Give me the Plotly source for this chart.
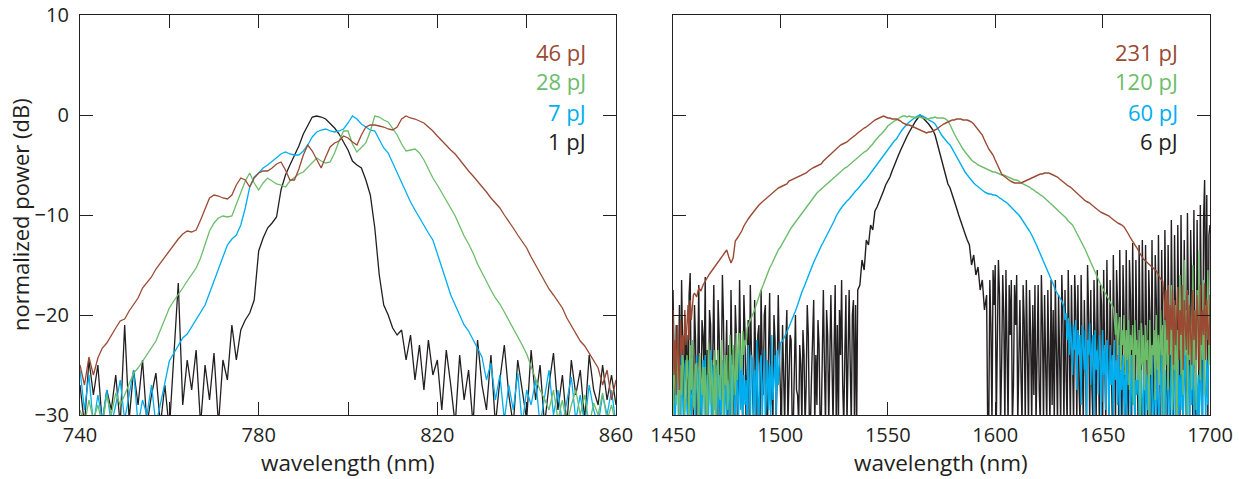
import numpy as np
import plotly.graph_objects as go

# ---------------- data: left panel (740-860 nm, 1 nm steps) ----------------
wl_left = list(range(740, 861))

left_46pJ = [
    -25.0, -27.0, -24.2, -26.0, -24.3, -23.3, -22.8, -22.0, -21.3, -20.6,
    -20.4, -19.6, -18.9, -18.3, -17.3, -16.8, -16.2, -15.4, -14.8, -14.1,
    -13.5, -12.9, -12.4, -11.9, -11.6, -11.7, -11.5, -10.5, -9.3, -8.3,
    -8.0, -8.1, -8.3, -8.4, -8.0, -7.0, -6.3, -6.5, -7.2, -6.3,
    -5.8, -5.6, -5.6, -5.3, -4.9, -4.7, -5.5, -6.5, -6.5, -5.4,
    -4.0, -3.0, -3.6, -4.5, -5.3, -4.2, -3.2, -2.8, -2.6, -2.1,
    -2.3, -2.7, -3.0, -2.0, -1.2, -1.0, -1.0, -1.1, -1.2, -1.4,
    -1.5, -1.2, -0.4, -0.1, -0.3, -0.4, -0.6, -0.8, -1.2, -1.6,
    -2.1, -2.6, -3.0, -3.5, -3.9, -4.5, -5.0, -5.6, -6.1, -6.6,
    -7.2, -7.7, -8.3, -8.8, -9.3, -10.0, -10.6, -11.3, -12.0, -12.6,
    -13.3, -14.2, -15.0, -15.9, -16.7, -17.4, -18.0, -18.6, -19.3, -20.3,
    -21.1, -21.9, -22.6, -23.1, -23.8, -24.6, -25.3, -27.0, -25.5, -28.5,
    -26.5,
]
left_28pJ = [
    -29.5, -31.0, -28.5, -30.5, -29.0, -31.0, -28.0, -30.0, -27.8, -29.0,
    -28.0, -26.8, -25.8, -25.3, -24.6, -24.0, -23.2, -22.6, -21.5, -20.3,
    -19.3, -18.6, -18.0, -17.3, -16.6, -16.0, -15.3, -14.3, -13.0, -11.6,
    -10.8, -10.3, -10.1, -10.2, -10.1, -9.0, -7.8, -6.6, -5.8, -6.8,
    -7.5, -6.8, -6.3, -6.6, -6.9, -7.0, -7.2, -6.6, -6.2, -5.9,
    -5.7, -5.2, -4.7, -4.3, -4.6, -4.8, -4.7, -3.8, -2.6, -1.6,
    -1.6, -2.9, -3.7, -3.3, -2.8, -1.6, -0.1, -0.2, -0.5, -0.7,
    -1.3, -2.0, -2.9, -3.6, -3.5, -3.4, -3.8, -4.5, -5.4, -6.3,
    -7.0, -7.8, -8.6, -9.3, -10.1, -11.1, -12.1, -12.9, -13.8, -14.9,
    -15.8, -16.7, -17.5, -18.3, -18.9, -19.7, -20.5, -21.3, -22.2, -23.0,
    -23.9, -25.2, -26.4, -27.5, -28.4, -29.5, -27.5, -30.5, -28.5, -31.0,
    -29.0, -27.5, -30.0, -28.0, -31.0, -28.8, -30.0, -27.8, -30.5, -29.0,
    -31.0,
]
left_7pJ = [
    -25.5, -29.5, -26.0, -31.0, -28.0, -30.5, -27.5, -31.0, -29.0, -26.5,
    -30.5, -28.0, -25.5, -31.0, -28.5, -30.0, -27.0, -31.0, -29.0, -26.8,
    -24.6, -23.8, -23.0, -22.3, -21.9, -21.2, -20.5, -19.7, -19.0, -17.8,
    -16.6, -15.2, -14.0, -13.0, -12.4, -12.0, -11.0, -9.3, -7.2, -6.2,
    -5.8, -5.3, -5.0, -4.6, -4.3, -3.9, -3.7, -3.9, -4.0, -4.0,
    -3.6, -3.0, -2.2, -1.7, -1.5, -1.4, -1.6, -1.7, -1.6, -1.4,
    -0.8, -0.1, -0.4, -0.9, -1.2, -1.5, -1.6, -2.5, -3.3, -3.8,
    -4.8, -5.8, -6.7, -7.8, -8.7, -9.5, -10.3, -11.0, -11.8, -12.5,
    -13.8, -15.2, -16.6, -18.0, -19.0, -20.0, -21.0, -21.6, -22.5, -23.3,
    -24.2, -26.5, -24.8, -28.5, -26.0, -30.5, -27.0, -29.5, -25.8, -31.0,
    -27.5, -29.0, -26.5, -31.0, -28.0, -25.5, -30.0, -27.5, -31.0, -28.5,
    -26.2, -30.5, -28.0, -31.0, -27.0, -29.5, -31.0, -28.0, -30.0, -27.5,
    -31.0,
]
left_1pJ = [
    -27.0, -31.0, -24.5, -28.0, -25.0, -31.0, -27.5, -29.5, -26.0, -31.0,
    -21.0, -30.5, -25.5, -29.0, -24.5, -31.0, -28.0, -25.8, -31.0, -27.0,
    -31.5, -24.0, -16.8, -29.0, -24.5, -27.5, -23.5, -31.0, -25.0, -28.5,
    -23.8, -31.0, -24.5, -26.5, -21.0, -24.5, -21.5, -20.5, -19.8, -18.5,
    -13.6, -12.3, -11.3, -10.8, -10.2, -7.5, -6.0, -5.0, -4.0, -3.1,
    -1.9, -1.0, -0.2, -0.1, -0.2, -0.4, -0.8, -1.3, -1.9, -2.7,
    -3.5, -4.6, -5.0, -5.3, -6.5, -8.0, -11.3, -16.0, -19.0, -20.0,
    -21.3, -22.0, -21.5, -24.5, -22.0, -26.5, -23.0, -27.5, -22.5, -26.0,
    -24.5, -29.5, -23.5, -27.0, -31.0, -24.0, -28.5, -25.5, -31.0, -22.5,
    -27.0, -29.5, -24.0, -31.0, -26.5, -23.0, -28.0, -31.0, -24.5, -27.5,
    -30.5, -23.5, -28.5, -25.0, -31.0, -27.0, -23.8, -29.5, -26.0, -31.0,
    -24.5, -28.0, -25.5, -30.5, -24.0, -27.5, -29.0, -25.0, -28.5, -26.0,
    -29.0,
]

# ---------------- data: right panel (1450-1700 nm) ----------------
# noisy stretches are sampled every 0.5 nm, the smooth spectra every 1 nm

# 231 pJ : 1450-1459.5 (0.5 nm) | 1460-1678 (1 nm) | 1678.5-1700 (0.5 nm)
r231_lo = [
    -19.5, -26.0, -22.5, -28.0, -21.0, -25.0, -27.5, -20.5, -24.0, -22.0,
    -24.0, -19.5, -23.0, -21.0, -19.0, -22.5, -18.5, -20.5, -19.0, -18.0,
]
r231_mid = [
    -17.8, -18.2, -17.3, -17.6, -17.0, -16.6, -16.3, -15.9, -15.6, -15.3,
    -15.0, -14.6, -14.3, -14.0, -13.7, -13.5, -14.2, -14.8, -14.3, -12.6,
    -12.3, -12.0, -11.6, -11.1, -10.7, -10.4, -10.1, -9.8, -9.5, -9.2,
    -9.0, -8.8, -8.6, -8.4, -8.2, -8.0, -7.9, -7.6, -7.5, -7.3,
    -7.2, -7.1, -7.0, -6.9, -6.6, -6.5, -6.4, -6.3, -6.2, -6.1,
    -6.0, -5.9, -5.8, -5.6, -5.4, -5.3, -5.2, -5.1, -5.0, -4.9,
    -4.6, -4.4, -4.1, -3.9, -3.7, -3.6, -3.4, -3.2, -3.0, -2.9,
    -2.8, -2.7, -2.5, -2.3, -2.2, -2.0, -1.8, -1.6, -1.5, -1.3,
    -1.2, -1.0, -0.9, -0.7, -0.5, -0.4, -0.3, -0.2, -0.1, -0.2,
    -0.3, -0.3, -0.4, -0.4, -0.4, -0.5, -0.6, -0.8, -0.9, -1.0,
    -1.0, -1.1, -1.2, -1.3, -1.4, -1.5, -1.6, -1.7, -1.8, -1.7,
    -1.7, -1.6, -1.5, -1.4, -1.2, -1.0, -0.9, -0.8, -0.7, -0.6,
    -0.5, -0.5, -0.4, -0.4, -0.4, -0.5, -0.5, -0.5, -0.6, -0.7,
    -0.9, -1.2, -1.5, -1.8, -2.0, -2.5, -3.0, -3.4, -3.7, -4.0,
    -4.5, -5.0, -5.5, -5.9, -6.1, -6.3, -6.5, -6.6, -6.7, -6.8,
    -6.8, -6.8, -6.8, -6.7, -6.6, -6.5, -6.4, -6.3, -6.2, -6.1,
    -6.0, -5.9, -5.9, -5.8, -5.8, -5.8, -5.9, -6.0, -6.1, -6.2,
    -6.4, -6.6, -6.8, -7.0, -7.1, -7.2, -7.4, -7.6, -7.8, -8.1,
    -8.3, -8.5, -8.6, -8.7, -8.8, -9.0, -9.2, -9.4, -9.5, -9.7,
    -9.8, -9.9, -10.0, -10.1, -10.3, -10.5, -10.6, -10.8, -10.9, -11.0,
    -11.2, -11.5, -11.9, -12.3, -12.6, -13.0, -13.3, -13.7, -14.1, -14.4,
    -14.6, -14.8, -15.0, -15.1, -15.3, -15.6, -16.0, -16.4, -16.6,
]
r231_hi = [
    -18.0, -20.5, -17.5,
    -22.5, -17.0, -24.0, -19.0, -21.5, -17.5, -25.0, -18.5, -23.0, -20.0,
    -17.2, -24.5, -19.5, -22.0, -17.0, -25.5, -18.5, -21.0, -23.5, -17.5,
    -24.0, -19.0, -21.5, -25.0, -17.5, -22.5, -19.5, -24.5, -18.0, -20.5,
    -25.5, -17.0, -23.0, -19.5, -22.0, -16.8, -24.5, -18.5, -21.5, -23.0,
    -18.0,
]

# 120 pJ : 1450-1484.5 (0.5 nm) | 1485-1655 (1 nm) | 1655.5-1700 (0.5 nm)
r120_lo = [
    -31.0, -24.5, -27.0, -29.0, -23.5, -26.0, -31.0, -25.0, -28.0, -24.0,
    -25.0, -30.0, -28.5, -24.0, -26.5, -31.0, -23.0, -27.5, -22.5, -29.0,
    -29.5, -25.0, -24.8, -28.0, -31.0, -23.8, -26.0, -28.0, -25.2, -30.0,
    -25.2, -27.5, -31.0, -22.8, -26.0, -29.0, -24.5, -27.0, -30.5, -23.5,
    -31.0, -25.5, -23.5, -28.0, -28.5, -22.5, -26.0, -31.0, -24.0, -27.0,
    -24.0, -29.5, -27.5, -22.0, -25.5, -30.0, -23.0, -26.0, -28.0, -21.8,
    -26.5, -23.0, -21.8, -25.5, -25.0, -21.6, -24.0, -22.5, -23.0, -21.3,
]
r120_mid = [
    -21.0, -20.5, -20.0, -19.5, -18.8,
    -18.2, -17.5, -17.0, -16.4, -15.8, -15.3, -14.9, -14.4, -14.0, -13.5,
    -13.2, -12.8, -12.4, -12.0, -11.6, -11.3, -11.0, -10.7, -10.4, -10.1,
    -9.8, -9.5, -9.2, -8.9, -8.6, -8.3, -8.1, -7.8, -7.6, -7.4,
    -7.2, -7.0, -6.8, -6.7, -6.5, -6.3, -6.1, -5.9, -5.7, -5.5,
    -5.3, -5.2, -5.0, -4.8, -4.6, -4.5, -4.3, -4.1, -3.9, -3.7,
    -3.6, -3.4, -3.2, -2.9, -2.6, -2.3, -2.1, -1.9, -1.7, -1.4,
    -1.1, -0.9, -0.8, -0.6, -0.5, -0.3, -0.2, -0.1, -0.1, -0.2,
    -0.1, -0.2, -0.2, -0.3, -0.2, -0.2, -0.3, -0.3, -0.4, -0.4,
    -0.3, -0.3, -0.2, -0.3, -0.3, -0.3, -0.3, -0.4, -0.6, -1.0,
    -1.5, -1.9, -2.3, -2.7, -3.0, -3.4, -3.7, -4.0, -4.3, -4.5,
    -4.7, -4.8, -5.0, -5.1, -5.2, -5.3, -5.4, -5.5, -5.6, -5.7,
    -5.7, -5.8, -5.9, -6.0, -6.0, -6.1, -6.2, -6.3, -6.4, -6.5,
    -6.5, -6.6, -6.8, -6.9, -7.0, -7.1, -7.2, -7.4, -7.5, -7.7,
    -7.8, -8.0, -8.1, -8.3, -8.5, -8.6, -8.8, -9.0, -9.2, -9.4,
    -9.6, -9.8, -10.0, -10.3, -10.6, -10.8, -11.0, -11.4, -11.8, -12.3,
    -12.7, -13.0, -13.5, -14.0, -14.5, -15.0, -15.4, -15.9, -16.4, -16.9,
    -17.3, -17.7, -18.2, -18.6, -19.0, -19.3,
]
r120_hi = [
    -20.5, -22.0, -19.8, -24.0, -21.0, -20.2, -25.5, -21.5, -23.0,
    -20.0, -26.0, -21.5, -24.5, -20.5, -27.5, -22.0, -23.5, -21.0, -29.0,
    -20.5, -24.0, -22.5, -26.5, -21.5, -31.0, -20.8, -25.0, -22.0, -27.5,
    -21.0, -24.5, -22.5, -31.0, -20.5, -26.0, -23.0, -24.0, -21.5, -28.5,
    -20.0, -25.5, -22.0, -27.0, -19.5, -24.0, -21.0, -30.0, -20.5, -25.0,
    -18.5, -27.5, -21.0, -24.0, -17.0, -29.5, -20.0, -25.5, -19.0, -31.0,
    -21.5, -23.5, -16.0, -26.0, -20.5, -28.0, -14.5, -24.0, -19.5, -30.0,
    -18.0, -24.5, -21.0, -27.5, -15.0, -25.0, -19.5, -29.5, -17.5, -23.0,
    -13.5, -26.5, -20.0, -24.5, -16.5, -28.0, -19.0, -22.5, -15.5, -25.0,
    -21.0,
]

# 60 pJ : 1450-1500 (0.5 nm) | 1501-1632 (1 nm) | 1632.5-1700 (0.5 nm)
r60_lo = [
    -25.0, -29.0, -31.0, -27.0, -24.0, -30.0, -26.5, -31.0, -23.5, -28.0,
    -31.0, -26.5, -24.5, -29.5, -31.0, -24.5, -27.0, -31.0, -25.5, -29.0,
    -27.5, -31.0, -24.0, -28.0, -25.5, -31.0, -26.5, -30.0, -24.5, -28.0,
    -24.0, -31.0, -26.0, -30.5, -26.5, -23.5, -31.0, -27.0, -25.0, -29.5,
    -29.0, -25.0, -31.0, -26.0, -28.5, -31.0, -24.5, -27.0, -30.0, -25.0,
    -31.0, -26.5, -27.0, -31.0, -24.0, -30.0, -25.5, -28.5, -31.0, -24.5,
    -27.5, -31.0, -23.5, -29.5, -24.0, -31.0, -26.0, -29.0, -26.5, -31.0,
    -23.0, -27.5, -31.0, -24.0, -24.5, -30.0, -25.5, -31.0, -22.5, -28.0,
    -31.0, -25.0, -24.0, -30.5, -26.0, -23.5, -31.0, -27.0, -24.5, -29.5,
    -25.0, -31.0, -22.0, -28.5, -26.0, -24.0, -30.0, -23.5, -27.0, -24.0,
    -22.8,
]
r60_mid = [
    -22.6, -22.2, -21.7, -21.2, -20.7, -20.1, -19.6, -19.0, -18.3,
    -17.7, -17.2, -16.6, -16.1, -15.6, -15.0, -14.5, -14.0, -13.5, -13.1,
    -12.7, -12.3, -11.9, -11.5, -11.1, -10.6, -10.1, -9.7, -9.4, -9.1,
    -8.8, -8.6, -8.4, -8.1, -7.9, -7.6, -7.4, -7.1, -6.9, -6.6,
    -6.4, -6.1, -5.8, -5.6, -5.3, -5.0, -4.7, -4.4, -4.1, -3.8,
    -3.5, -3.2, -2.9, -2.6, -2.4, -2.0, -1.7, -1.4, -1.1, -0.9,
    -0.7, -0.5, -0.4, -0.2, -0.1, 0.0, -0.1, -0.2, -0.3, -0.5,
    -0.6, -0.7, -0.9, -1.2, -1.6, -2.0, -2.3, -2.5, -2.8, -3.0,
    -3.4, -3.8, -4.2, -4.6, -5.0, -5.3, -5.7, -6.0, -6.3, -6.6,
    -6.8, -7.0, -7.2, -7.4, -7.6, -7.7, -7.8, -7.9, -7.9, -8.0,
    -8.0, -8.1, -8.3, -8.4, -8.6, -8.7, -8.9, -9.1, -9.3, -9.5,
    -9.7, -10.0, -10.3, -10.6, -10.9, -11.2, -11.6, -12.0, -12.4, -12.9,
    -13.4, -13.9, -14.3, -14.9, -15.4, -15.9, -16.4, -16.9, -17.5, -17.9,
    -18.3, -18.6, -19.2,
]
r60_hi = [
    -20.5, -19.8, -22.5, -20.3, -24.0,
    -20.8, -22.5, -26.0, -21.0, -23.5, -20.5, -27.5, -21.5, -24.0, -22.0,
    -29.0, -21.0, -23.0, -25.5, -21.5, -31.0, -22.5, -24.0, -20.8, -27.0,
    -23.0, -22.0, -31.0, -21.5, -25.5, -23.5, -28.0, -22.0, -24.5, -31.0,
    -21.5, -26.0, -23.0, -29.5, -22.5, -25.0, -31.0, -23.0, -27.0, -24.0,
    -31.0, -22.5, -26.5, -24.5, -29.0, -23.0, -31.0, -25.0, -27.5, -24.0,
    -30.0, -25.5, -31.0, -23.5, -27.0, -26.0, -31.0, -24.0, -29.0, -25.0,
    -31.0, -26.5, -28.0, -24.0, -31.0, -27.0, -25.5, -31.0, -28.5, -24.5,
    -31.0, -26.0, -29.5, -25.0, -31.0, -27.5, -24.0, -31.0, -28.0, -26.5,
    -31.0, -25.0, -29.0, -31.0, -26.5, -24.0, -31.0, -28.0, -25.5, -31.0,
    -27.0, -24.5, -31.0, -29.0, -23.5, -31.0, -27.5, -25.0, -31.0, -28.0,
    -22.5, -31.0, -26.0, -29.5, -24.0, -31.0, -27.0, -22.0, -31.0, -28.5,
    -25.0, -31.0, -23.0, -29.0, -20.5, -31.0, -27.0, -24.5, -31.0, -26.0,
    -31.0, -23.5, -28.5, -31.0, -21.0, -27.0, -31.0, -24.5, -29.0, -22.0,
    -24.0,
]

# 6 pJ : 1450-1536 (0.5 nm) | 1537-1596 (1 nm) | 1596.5-1700 (0.5 nm)
r6_lo = [
    -17.5, -26.0, -31.0, -21.0, -24.5, -27.5, -19.0, -31.0, -16.5, -23.0,
    -31.0, -20.0, -25.5, -22.0, -31.0, -18.0, -15.8, -28.0, -24.0, -31.0,
    -19.0, -22.5, -31.0, -25.0, -17.0, -29.0, -31.0, -20.5, -22.0, -26.0,
    -16.2, -31.0, -23.5, -28.5, -19.5, -21.0, -31.0, -24.0, -17.0, -27.0,
    -24.5, -31.0, -18.5, -22.0, -31.0, -26.5, -16.0, -20.5, -29.0, -26.0,
    -20.5, -31.0, -23.0, -31.0, -17.5, -25.0, -23.5, -31.0, -19.0, -22.0,
    -31.0, -27.0, -16.5, -24.0, -27.0, -31.0, -18.0, -21.5, -31.0, -25.5,
    -20.5, -31.0, -17.0, -23.5, -29.0, -31.0, -18.5, -26.0, -31.0, -22.0,
    -21.0, -31.0, -17.5, -24.0, -28.0, -20.0, -19.0, -31.0, -31.0, -23.5,
    -17.8, -29.0, -25.5, -31.0, -20.0, -22.5, -31.0, -26.0, -18.0, -24.0,
    -27.5, -31.0, -21.0, -25.0, -31.0, -23.0, -19.5, -31.0, -26.0, -22.0,
    -22.5, -31.0, -31.0, -24.0, -20.0, -27.5, -28.0, -31.0, -23.0, -25.0,
    -31.0, -21.5, -24.0, -31.0, -27.0, -19.0, -22.0, -31.0, -31.0, -26.0,
    -22.0, -18.5, -31.0, -24.0, -29.0, -20.5, -23.0, -31.0, -31.0, -21.0,
    -17.5, -25.0, -31.0, -19.5, -22.0, -31.0, -26.0, -18.0, -24.5, -31.0,
    -23.5, -17.0, -31.0, -21.0, -31.0, -19.5, -24.0, -16.5, -27.0, -31.0,
    -24.0, -18.0, -31.0, -22.0, -17.5, -25.0, -31.0, -20.0, -18.5, -31.0,
    -19.0, -31.0, -17.5,
]
r6_mid = [
    -17.0, -14.5, -15.5,
    -12.5, -13.0, -11.0, -11.5, -9.6, -9.2, -8.7, -8.2, -7.6, -7.0,
    -6.6, -6.2, -5.6, -5.0, -4.5, -4.0, -3.5, -3.0, -2.5, -2.1,
    -1.7, -1.3, -0.9, -0.6, -0.3, 0.0, -0.2, -0.4, -0.6, -0.9,
    -1.2, -1.5, -2.0, -2.8, -3.6, -4.5, -5.3, -6.2, -6.9, -7.3,
    -7.9, -8.6, -9.3, -10.0, -10.7, -11.3, -11.9, -12.5, -13.0, -15.0,
    -14.0, -16.0, -15.2, -17.5, -16.5, -19.5, -18.0,
]
r6_hi = [
    -31.0, -31.0, -16.5, -21.0, -31.0, -15.5, -19.0,
    -15.0, -31.0, -22.5, -14.5, -18.0, -31.0, -25.0, -16.0, -20.0, -31.0,
    -15.5, -24.0, -31.0, -17.0, -22.0, -16.5, -31.0, -27.0, -17.0, -21.0,
    -16.0, -31.0, -23.0, -18.5, -26.0, -31.0, -17.0, -20.5, -31.0, -16.5,
    -24.0, -31.0, -17.5, -22.0, -31.0, -19.0, -28.0, -17.0, -31.0, -23.5,
    -17.0, -27.5, -31.0, -16.0, -21.0, -31.0, -18.0, -25.0, -31.0, -17.5,
    -23.0, -31.0, -16.5, -29.0, -19.5, -31.0, -16.5, -22.5, -31.0, -18.0,
    -25.5, -31.0, -16.0, -20.0, -31.0, -17.5, -26.0, -31.0, -15.5, -22.0,
    -31.0, -17.0, -24.5, -31.0, -16.0, -19.5, -31.0, -17.0, -27.0, -31.0,
    -16.0, -22.0, -31.0, -18.5, -24.0, -31.0, -15.0, -20.0, -31.0, -17.5,
    -27.0, -31.0, -16.5, -21.5, -31.0, -15.5, -23.0, -31.0, -17.0, -19.0,
    -31.0, -15.5, -25.0, -31.0, -14.5, -20.5, -31.0, -16.5, -28.0, -31.0,
    -14.0, -22.0, -31.0, -15.5, -19.0, -31.0, -13.5, -24.5, -31.0, -15.0,
    -20.0, -31.0, -13.5, -26.0, -31.0, -14.5, -18.5, -31.0, -12.8, -23.0,
    -31.0, -14.5, -21.0, -31.0, -13.0, -25.0, -31.0, -12.5, -19.5, -31.0,
    -13.0, -23.0, -31.0, -15.5, -20.0, -31.0, -12.5, -26.0, -31.0, -14.0,
    -18.5, -31.0, -12.0, -24.0, -31.0, -13.5, -21.0, -31.0, -11.5, -19.0,
    -31.0, -13.0, -22.5, -31.0, -10.5, -20.0, -31.0, -12.0, -25.0, -31.0,
    -11.0, -18.5, -31.0, -10.0, -23.0, -31.0, -12.5, -19.5, -31.0, -9.8,
    -21.0, -31.0, -11.5, -17.5, -31.0, -9.5, -24.0, -31.0, -10.5, -20.0,
    -31.0, -9.0, -18.0, -31.0, -10.5, -6.5, -22.0, -8.0, -31.0, -12.0,
    -11.0,
]

left_labels = ["46 pJ", "28 pJ", "7 pJ", "1 pJ"]
right_labels = ["231 pJ", "120 pJ", "60 pJ", "6 pJ"]
label_db = [6.3, 3.4, 0.3, -2.6]
y_ticks = [-30, -20, -10, 0, 10]
y_ticktext = ["\u221230", "\u221220", "\u221210", "0", "10"]
left_xticks = [740, 760, 780, 800, 820, 840, 860]
left_xticktext = ["740", "", "780", "", "820", "", "860"]
right_xticks = [1450, 1500, 1550, 1600, 1650, 1700]
x_title = "wavelength (nm)"
y_title = "normalized power (dB)"


def grid(start, stop, step):
    return [round(v, 2) for v in np.arange(start, stop + step / 2, step)]


def join(parts):
    xs, ys = [], []
    for (a, b, s), vals in parts:
        g = grid(a, b, s)
        assert len(g) == len(vals), (a, b, len(g), len(vals))
        xs += g
        ys += vals
    return xs, ys


right_231_x, right_231 = join([((1450, 1459.5, 0.5), r231_lo), ((1460, 1678, 1), r231_mid),
                               ((1678.5, 1700, 0.5), r231_hi)])
right_120_x, right_120 = join([((1450, 1484.5, 0.5), r120_lo), ((1485, 1655, 1), r120_mid),
                               ((1655.5, 1700, 0.5), r120_hi)])
right_60_x, right_60 = join([((1450, 1500, 0.5), r60_lo), ((1501, 1632, 1), r60_mid),
                             ((1632.5, 1700, 0.5), r60_hi)])
right_6_x, right_6 = join([((1450, 1536, 0.5), r6_lo), ((1537, 1596, 1), r6_mid),
                           ((1596.5, 1700, 0.5), r6_hi)])

for arr in (left_46pJ, left_28pJ, left_7pJ, left_1pJ):
    assert len(arr) == len(wl_left), len(arr)

BROWN = "#9a4a33"
GREEN = "#6cbd6a"
BLUE = "#00aeef"
BLACK = "#231f20"
FONT = "Open Sans"

fig = go.Figure()
for ys, col in ((left_1pJ, BLACK), (left_7pJ, BLUE), (left_28pJ, GREEN), (left_46pJ, BROWN)):
    fig.add_trace(go.Scatter(x=wl_left, y=ys, mode="lines", line=dict(color=col, width=1.3),
                             xaxis="x", yaxis="y", showlegend=False, hoverinfo="skip"))
for xs, ys, col in ((right_6_x, right_6, BLACK), (right_60_x, right_60, BLUE),
                    (right_120_x, right_120, GREEN), (right_231_x, right_231, BROWN)):
    fig.add_trace(go.Scatter(x=xs, y=ys, mode="lines", line=dict(color=col, width=1.4),
                             xaxis="x2", yaxis="y2", showlegend=False, hoverinfo="skip"))

W, H = 1239, 479
ml, mr, mt, mb = 80, 29, 15, 64
pw = W - ml - mr
ph = H - mt - mb
left_dom = [0, 536 / pw]
right_dom = [(673 - ml) / pw, 1]

ann = []
cols = [BROWN, GREEN, BLUE, BLACK]
for txt, yy, c in zip(left_labels, label_db, cols):
    ann.append(dict(x=853.8, y=yy, xref="x", yref="y", text=txt, showarrow=False,
                    xanchor="right", yanchor="middle", font=dict(family=FONT, size=22, color=c)))
for txt, yy, c in zip(right_labels, label_db, cols):
    ann.append(dict(x=1686.0, y=yy, xref="x2", yref="y2", text=txt, showarrow=False,
                    xanchor="right", yanchor="middle", font=dict(family=FONT, size=22, color=c)))
# axis titles placed explicitly (y title left of tick labels, x titles below them)
ann.append(dict(x=(20 - ml) / pw, y=0.5, xref="paper", yref="paper", text=y_title,
                textangle=-90, showarrow=False, xanchor="center", yanchor="middle",
                font=dict(family=FONT, size=22, color=BLACK)))
title_y = -(462 - (H - mb)) / ph
for dom in (left_dom, right_dom):
    ann.append(dict(x=(dom[0] + dom[1]) / 2, y=title_y, xref="paper", yref="paper", text=x_title,
                    showarrow=False, xanchor="center", yanchor="middle", borderpad=0,
                    font=dict(family=FONT, size=22.5, color=BLACK)))

axis_common = dict(showline=True, linecolor=BLACK, linewidth=1.3, mirror="allticks",
                   ticks="inside", ticklen=13, tickwidth=1.3, tickcolor=BLACK,
                   showgrid=False, zeroline=False, automargin=False,
                   tickfont=dict(family=FONT, size=20, color=BLACK))

fig.update_layout(
    width=W, height=H,
    margin=dict(l=ml, r=mr, t=mt, b=mb),
    paper_bgcolor="white", plot_bgcolor="white",
    font=dict(family=FONT, color=BLACK),
    xaxis=dict(domain=left_dom, range=[740, 860], tickvals=left_xticks,
               ticktext=left_xticktext, anchor="y", ticklabelstandoff=2, **axis_common),
    yaxis=dict(domain=[0, 1], range=[-30, 10], tickvals=y_ticks, ticktext=y_ticktext, anchor="x",
               ticklabelstandoff=6, **axis_common),
    xaxis2=dict(domain=right_dom, range=[1450, 1700], tickvals=right_xticks, anchor="y2",
                ticklabelstandoff=2, **axis_common),
    yaxis2=dict(domain=[0, 1], range=[-30, 10], tickvals=y_ticks, showticklabels=False, anchor="x2",
                **axis_common),
    annotations=ann,
)

# remove the default 8 px page margin so the figure sits at the window origin
fig.write_html("out.html", config={"displayModeBar": False},
               post_script="document.body.style.margin='0px';")
